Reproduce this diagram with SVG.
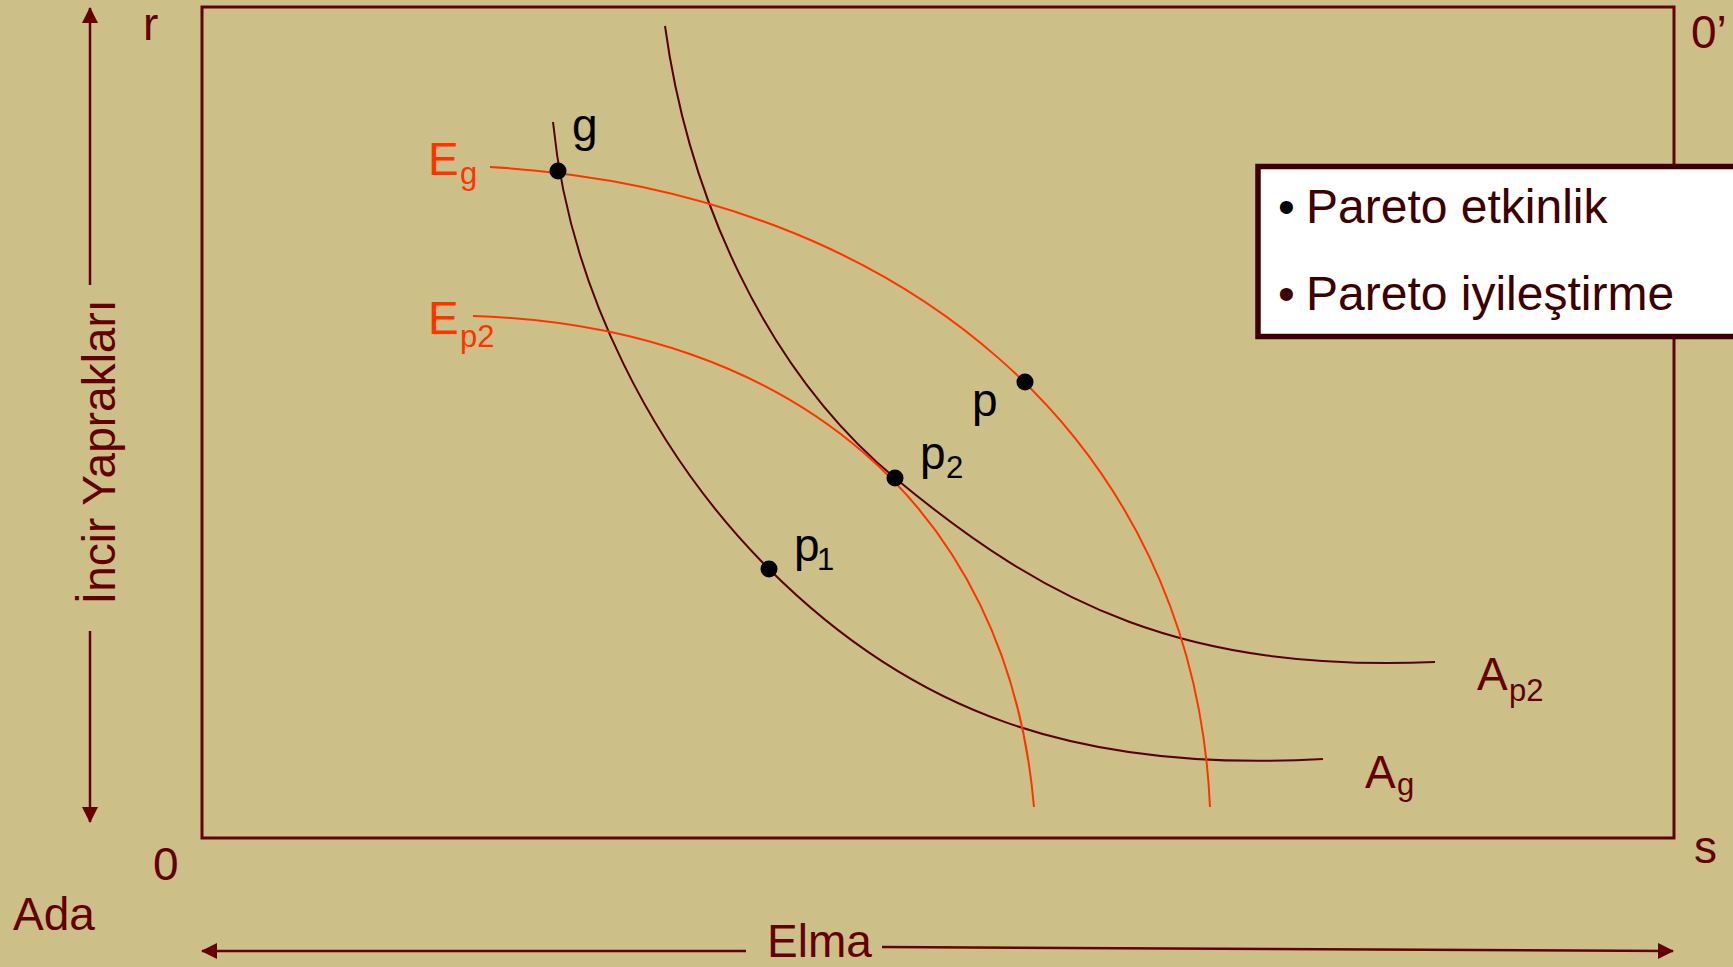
<svg xmlns="http://www.w3.org/2000/svg" width="1733" height="967" viewBox="0 0 1733 967">
<defs>
<marker id="ah" viewBox="0 0 16 16" refX="15" refY="8" markerWidth="16" markerHeight="16" markerUnits="userSpaceOnUse" orient="auto">
<path d="M0,0 L16,8 L0,16 z" fill="#660000"/>
</marker>
<style>
text{font-family:"Liberation Sans",Arial,sans-serif;}
.ax{fill:#660000;font-size:46px;}
.lbl{fill:#000;font-size:46px;}
.red{fill:#FF3300;font-size:46px;}
.dk{fill:#660000;font-size:46px;}
text.sub{font-size:31px;}
.axl{stroke:#660000;stroke-width:2.5;fill:none;}
.cd{stroke:#5a0000;stroke-width:2;fill:none;}
.cr{stroke:#FF3300;stroke-width:2;fill:none;}
.dot{fill:#000;}
.box{fill:#fff;stroke:#3d0000;stroke-width:5.5;}
.bt{fill:#3d0000;font-size:48px;}
</style>
</defs>
<rect width="1733" height="967" fill="#CCC088"/>

<g id="frame">
<rect x="202" y="7" width="1472" height="831" fill="none" stroke="#660000" stroke-width="3"/>
</g>

<g id="axes">
<line class="axl" x1="90" y1="285" x2="90" y2="8" marker-end="url(#ah)"/>
<line class="axl" x1="90" y1="631" x2="90" y2="822" marker-end="url(#ah)"/>
<line class="axl" x1="746" y1="951" x2="202" y2="951" marker-end="url(#ah)"/>
<line class="axl" x1="882" y1="947" x2="1673" y2="951" marker-end="url(#ah)"/>
<text class="ax" x="115" y="452" text-anchor="middle" font-size="48" transform="rotate(-90 115 452)">İncir Yaprakları</text>
<text class="ax" x="767" y="957" font-size="48">Elma</text>
<text class="ax" x="13" y="930">Ada</text>
<text class="ax" x="153" y="880">0</text>
<text class="ax" x="143" y="40" font-size="48">r</text>
<text class="ax" x="1694" y="863">s</text>
<text class="ax" x="1691" y="48" font-size="48">0’</text>
</g>

<g id="connectors">
<path id="Ap2" class="cd" d="M665,26 C688,194 764,369 895,478 C1049,606 1185,672 1435,662"/>
<path id="Ag" class="cd" d="M553,122 C569,286 652,452 769,569 C910,710 1073,773 1323,759"/>
<path id="Eg" class="cr" d="M490,167 C905,191 1194,442 1210,807"/>
<path id="Ep2" class="cr" d="M473,316 C793,326 1008,507 1034,807"/>
</g>

<g id="point-g">
<circle class="dot" cx="558" cy="171" r="8.5"/>
<text class="lbl" x="572" y="141" font-size="48">g</text>
</g>
<g id="point-p">
<circle class="dot" cx="1025" cy="382" r="8.5"/>
<text class="lbl" x="972" y="416">p</text>
</g>
<g id="point-p2">
<circle class="dot" cx="895" cy="478" r="8.5"/>
<text class="lbl" x="920" y="469">p</text>
<text class="lbl sub" x="946" y="478">2</text>
</g>
<g id="point-p1">
<circle class="dot" cx="769" cy="569" r="8.5"/>
<text class="lbl" x="794" y="561">p</text>
<text class="lbl sub" x="817" y="570">1</text>
</g>

<g id="label-Eg">
<text class="red" x="428" y="175">E</text>
<text class="red sub" x="460" y="184">g</text>
</g>
<g id="label-Ep2">
<text class="red" x="428" y="334">E</text>
<text class="red sub" x="460" y="347">p2</text>
</g>
<g id="label-Ap2">
<text class="dk" x="1477" y="690">A</text>
<text class="dk sub" x="1509" y="701">p2</text>
</g>
<g id="label-Ag">
<text class="dk" x="1365" y="788">A</text>
<text class="dk sub" x="1397" y="795">g</text>
</g>

<g id="notes">
<rect class="box" x="1258" y="166.5" width="500" height="170"/>
<text class="bt" x="1278" y="223"><tspan fill="#000">•</tspan></text>
<text class="bt" x="1306" y="223">Pareto etkinlik</text>
<text class="bt" x="1278" y="310">•</text>
<text class="bt" x="1306" y="310">Pareto iyileştirme</text>
</g>
</svg>
